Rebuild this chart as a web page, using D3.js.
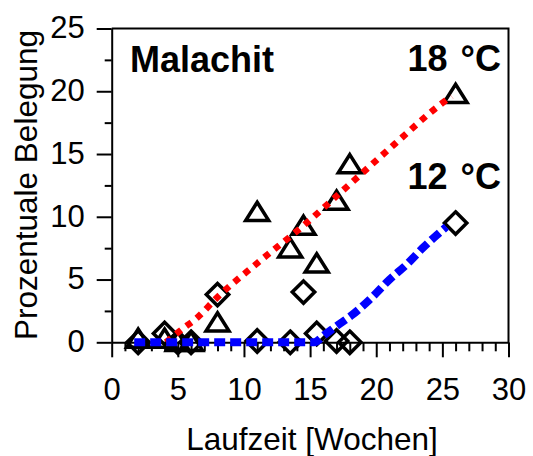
<!DOCTYPE html>
<html>
<head>
<meta charset="utf-8">
<script src="https://cdn.jsdelivr.net/npm/d3@7"></script>
<style>
  html, body { margin: 0; padding: 0; background: #fff; }
  svg { display: block; font-family: "Liberation Sans", Arial, Helvetica, sans-serif; }
</style>
</head>
<body>
<svg id="chart" width="533" height="456"></svg>
<script>
// Measured occupancy (%) over running time in weeks, two storage temperatures
const weeks18 = [2, 4, 5, 6, 8, 11, 13.5, 14.5, 15.5, 17, 18, 26];
const values18 = [0.3, 0.3, 0.05, 0.05, 1.6, 10.4, 7.5, 9.3, 6.3, 11.3, 14.2, 19.8];
const weeks12 = [2, 4, 5, 6, 8, 11, 13.5, 14.5, 15.5, 17, 18, 26];
const values12 = [0, 0.7, 0, 0, 3.8, 0.1, 0, 4.0, 0.7, 0.1, 0, 9.5];

// Trend curves for each temperature
const trend18Weeks = [4.1, 5.4, 6.4, 8, 11, 14.5, 17.9, 21.4, 24.8, 25.7];
const trend18Values = [0, 1.1, 1.9, 3.6, 6.3, 9.3, 12.5, 15.8, 18.9, 19.6];
const trend12Weeks = [1.7, 15.3, 16.1, 17, 18.2, 19.7, 21, 22.3, 23.5, 25.3];
const trend12Values = [0, 0, 0.6, 1.3, 2.2, 3.6, 5.0, 6.2, 7.5, 9.2];

const xTicks = [0, 5, 10, 15, 20, 25, 30];
const yTicks = [0, 5, 10, 15, 20, 25];
const xMinorTicks = d3.range(0, 31, 1).filter(v => v % 5 !== 0);
const yMinorTicks = [2.5, 7.5, 12.5, 17.5, 22.5];

const svg = d3.select("#chart");
const plotLeft = 111.7, plotRight = 508.5, plotTop = 28.5, plotBottom = 342.3;

const x = d3.scaleLinear().domain([0, 30]).range([plotLeft, plotRight]);
const y = d3.scaleLinear().domain([0, 25]).range([plotBottom, plotTop]);

// Frame (top and right edges)
svg.append("path")
  .attr("d", `M${plotLeft},${plotTop}H${plotRight}V${plotBottom}`)
  .attr("fill", "none").attr("stroke", "#000").attr("stroke-width", 2);

// Minor ticks
svg.append("g").attr("transform", `translate(0,${plotBottom})`)
  .call(d3.axisBottom(x).tickValues(xMinorTicks).tickSize(9).tickFormat(""))
  .call(g => g.select(".domain").remove());
svg.append("g").attr("transform", `translate(${plotLeft},0)`)
  .call(d3.axisLeft(y).tickValues(yMinorTicks).tickSize(7).tickFormat(""))
  .call(g => g.select(".domain").remove());

// Major axes
const xAxis = svg.append("g").attr("transform", `translate(0,${plotBottom})`)
  .call(d3.axisBottom(x).tickValues(xTicks).tickSize(15).tickPadding(21).tickSizeOuter(0));
const yAxis = svg.append("g").attr("transform", `translate(${plotLeft},0)`)
  .call(d3.axisLeft(y).tickValues(yTicks).tickSize(15).tickPadding(12).tickSizeOuter(0));

svg.selectAll(".tick line").attr("stroke", "#000").attr("stroke-width", 2);
[xAxis, yAxis].forEach(a => {
  a.select(".domain").attr("stroke", "#000").attr("stroke-width", 2);
  a.selectAll("text").attr("font-size", 31).attr("fill", "#000")
    .attr("font-family", "'Liberation Sans', Arial, sans-serif");
});
yAxis.selectAll("text").attr("dy", "0.3em");

// Axis titles
svg.append("text")
  .attr("x", 312).attr("y", 450)
  .attr("text-anchor", "middle").attr("font-size", 31.5)
  .text("Laufzeit [Wochen]");
svg.append("text")
  .attr("transform", "translate(37,185) rotate(-90)")
  .attr("text-anchor", "middle").attr("font-size", 31.5)
  .text("Prozentuale Belegung");

// Markers: hollow triangles (18 °C) and diamonds (12 °C)
const tri = "M0,-9.5L11.5,8.8L-11.5,8.8Z";
const dia = "M0,-11.2L11.2,0L0,11.2L-11.2,0Z";
svg.append("g").selectAll("path")
  .data(weeks18.map((w, i) => [w, values18[i]]))
  .join("path")
  .attr("d", tri)
  .attr("transform", d => `translate(${x(d[0])},${y(d[1])})`)
  .attr("fill", "none").attr("stroke", "#000").attr("stroke-width", 3.5)
  .attr("stroke-linejoin", "miter");
svg.append("g").selectAll("path")
  .data(weeks12.map((w, i) => [w, values12[i]]))
  .join("path")
  .attr("d", dia)
  .attr("transform", d => `translate(${x(d[0])},${y(d[1])})`)
  .attr("fill", "none").attr("stroke", "#000").attr("stroke-width", 3.5)
  .attr("stroke-linejoin", "miter");

// Trend lines
const line = d3.line().x(d => x(d[0])).y(d => y(d[1])).curve(d3.curveMonotoneX);
svg.append("path")
  .datum(trend18Weeks.map((w, i) => [w, trend18Values[i]]))
  .attr("d", line)
  .attr("fill", "none").attr("stroke", "#ff0000").attr("stroke-width", 6.5)
  .attr("stroke-dasharray", "6.5,6.5");
svg.append("path")
  .datum(trend12Weeks.map((w, i) => [w, trend12Values[i]]))
  .attr("d", line)
  .attr("fill", "none").attr("stroke", "#0000ff").attr("stroke-width", 8)
  .attr("stroke-dasharray", "11,5");

// Labels
svg.append("text")
  .attr("x", 130).attr("y", 71.7)
  .attr("font-size", 36).attr("font-weight", "bold")
  .text("Malachit");
const t18 = svg.append("text")
  .attr("x", 501).attr("y", 70.7).attr("text-anchor", "end")
  .attr("font-size", 36).attr("font-weight", "bold");
t18.append("tspan").text("18");
t18.append("tspan").attr("dx", 13).text("°C");
const t12 = svg.append("text")
  .attr("x", 501).attr("y", 189).attr("text-anchor", "end")
  .attr("font-size", 36).attr("font-weight", "bold");
t12.append("tspan").text("12");
t12.append("tspan").attr("dx", 13).text("°C");
</script>
</body>
</html>
